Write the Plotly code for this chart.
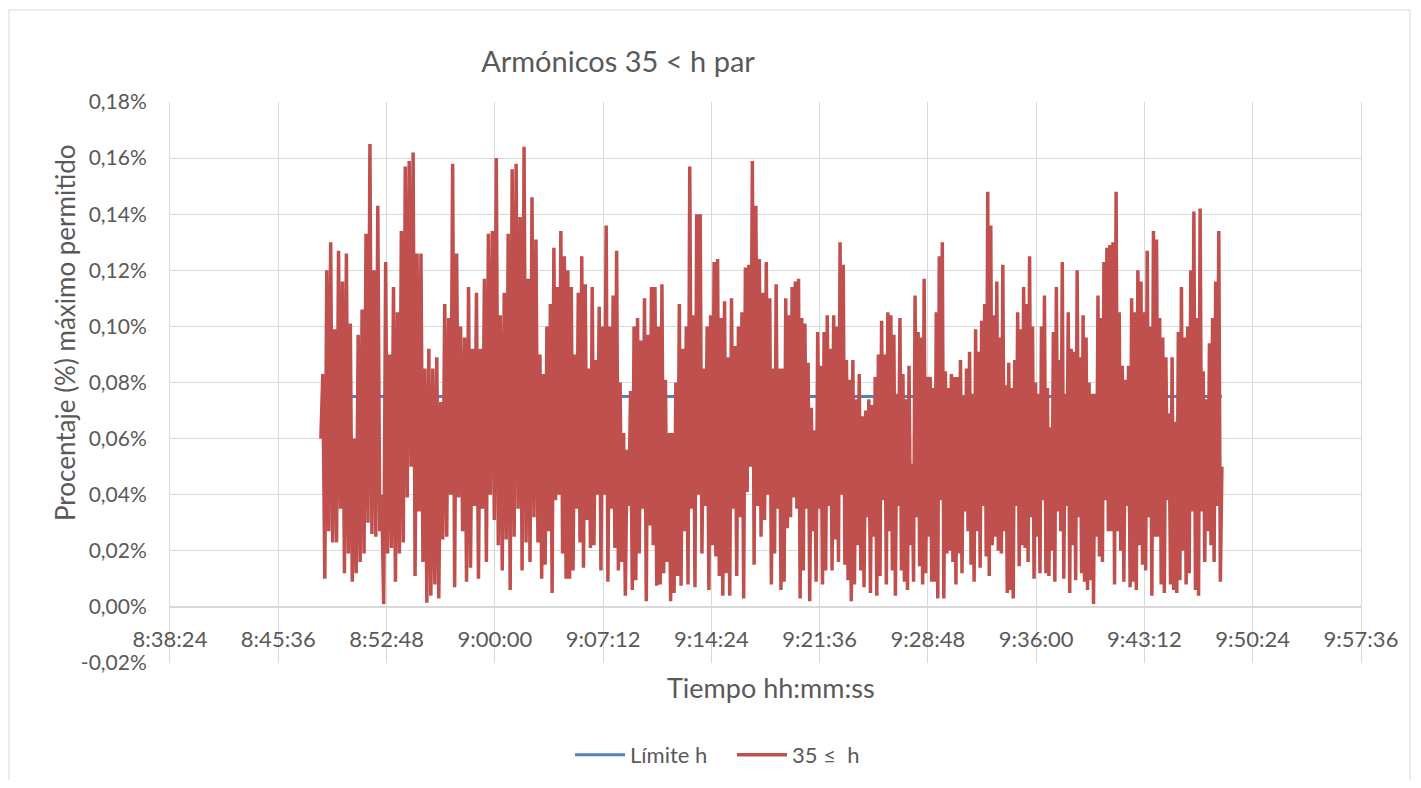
import pandas as pd
import plotly.graph_objects as go

# Datos (valores en %)
dia = "2024-01-01 "
inicio_tramos = ["08:48:26", "08:55:21", "09:03:00", "09:10:39",
                 "09:18:17", "09:25:56", "09:33:35", "09:40:54"]
fin_datos = "09:48:21"

limite_h = 0.075

tramo_1 = [0.060, 0.083, 0.010, 0.120, 0.027, 0.130, 0.023, 0.099, 0.023, 0.127, 0.035, 0.116, 0.012,
           0.126, 0.019, 0.101, 0.009, 0.060, 0.012, 0.097, 0.016, 0.106, 0.019, 0.133, 0.030, 0.165,
           0.026, 0.120, 0.025, 0.143, 0.027, 0.040, 0.001, 0.123, 0.019, 0.090, 0.021, 0.114, 0.009,
           0.105, 0.019, 0.134, 0.023, 0.157, 0.039, 0.159, 0.050, 0.162, 0.011, 0.126, 0.034, 0.126, 0.016]
tramo_2 = [0.085, 0.0015, 0.092, 0.004, 0.085, 0.008, 0.089, 0.003, 0.073, 0.024, 0.108, 0.025, 0.103,
           0.040, 0.158, 0.007, 0.126, 0.039, 0.100, 0.027, 0.096, 0.009, 0.114, 0.014, 0.092, 0.036,
           0.112, 0.010, 0.092, 0.035, 0.117, 0.016, 0.133, 0.040, 0.134, 0.031, 0.160, 0.022, 0.104,
           0.013, 0.112, 0.024, 0.133, 0.006, 0.156, 0.025, 0.158, 0.035, 0.139, 0.013, 0.164, 0.023,
           0.117, 0.016, 0.146, 0.032, 0.131, 0.023]
tramo_3 = [0.090, 0.010, 0.083, 0.015, 0.100, 0.027, 0.108, 0.005, 0.128, 0.038, 0.114, 0.040, 0.134,
           0.019, 0.125, 0.010, 0.120, 0.010, 0.114, 0.013, 0.090, 0.035, 0.112, 0.023, 0.125, 0.014,
           0.115, 0.031, 0.085, 0.021, 0.114, 0.022, 0.088, 0.040, 0.107, 0.013, 0.100, 0.040, 0.136,
           0.009, 0.100, 0.035, 0.111, 0.021, 0.127, 0.013, 0.080, 0.016, 0.062, 0.004, 0.056, 0.036,
           0.077, 0.006, 0.100, 0.0095, 0.103, 0.019, 0.095, 0.035, 0.110, 0.002, 0.097, 0.029, 0.114, 0.022]
tramo_4 = [0.114, 0.0075, 0.100, 0.008, 0.115, 0.012, 0.081, 0.016, 0.062, 0.002, 0.062, 0.005, 0.080,
           0.011, 0.108, 0.0075, 0.092, 0.027, 0.100, 0.008, 0.157, 0.035, 0.104, 0.007, 0.140, 0.040,
           0.140, 0.019, 0.085, 0.036, 0.100, 0.006, 0.104, 0.022, 0.123, 0.018, 0.124, 0.011, 0.103,
           0.004, 0.109, 0.012, 0.089, 0.004, 0.110, 0.035, 0.093, 0.011, 0.100, 0.032, 0.105, 0.003,
           0.121, 0.041, 0.122, 0.050, 0.159, 0.015, 0.143, 0.036, 0.124, 0.025, 0.112, 0.031, 0.123, 0.040]
tramo_5 = [0.110, 0.008, 0.085, 0.019, 0.115, 0.035, 0.085, 0.006, 0.085, 0.009, 0.110, 0.028, 0.104,
           0.032, 0.114, 0.039, 0.116, 0.035, 0.117, 0.003, 0.103, 0.013, 0.101, 0.035, 0.087, 0.002,
           0.071, 0.027, 0.063, 0.009, 0.098, 0.035, 0.086, 0.008, 0.098, 0.013, 0.104, 0.036, 0.092,
           0.013, 0.104, 0.024, 0.100, 0.016, 0.130, 0.040, 0.122, 0.015, 0.088, 0.0095, 0.081, 0.002,
           0.088, 0.008, 0.074, 0.022, 0.083, 0.013, 0.068, 0.007, 0.070, 0.032, 0.074, 0.005, 0.072,
           0.025, 0.082, 0.004, 0.090, 0.011, 0.102, 0.038]
tramo_6 = [0.090, 0.008, 0.105, 0.027, 0.104, 0.013, 0.097, 0.004, 0.076, 0.036, 0.103, 0.013, 0.083,
           0.009, 0.074, 0.006, 0.086, 0.022, 0.051, 0.009, 0.111, 0.032, 0.098, 0.0145, 0.096, 0.008,
           0.117, 0.012, 0.082, 0.025, 0.082, 0.009, 0.078, 0.009, 0.105, 0.003, 0.125, 0.038, 0.130,
           0.003, 0.084, 0.019, 0.078, 0.020, 0.083, 0.016, 0.082, 0.008, 0.082, 0.019, 0.088, 0.012,
           0.075, 0.034, 0.085, 0.027, 0.091, 0.015, 0.076, 0.009, 0.099, 0.027, 0.091, 0.014, 0.102,
           0.036, 0.108, 0.018, 0.148, 0.011, 0.136, 0.022, 0.104, 0.025, 0.116, 0.020]
tramo_7 = [0.096, 0.019, 0.122, 0.027, 0.079, 0.005, 0.087, 0.006, 0.078, 0.003, 0.088, 0.036, 0.105,
           0.0145, 0.099, 0.022, 0.114, 0.021, 0.108, 0.016, 0.125, 0.032, 0.100, 0.010, 0.080, 0.025,
           0.076, 0.012, 0.100, 0.038, 0.111, 0.012, 0.078, 0.011, 0.064, 0.020, 0.098, 0.009, 0.114,
           0.034, 0.088, 0.027, 0.123, 0.010, 0.076, 0.036, 0.105, 0.005, 0.092, 0.022, 0.091, 0.0095,
           0.120, 0.032, 0.089, 0.012, 0.104, 0.009, 0.096, 0.006, 0.080, 0.0095, 0.076, 0.001, 0.076,
           0.025, 0.111, 0.018, 0.103, 0.016, 0.123, 0.038, 0.128, 0.027]
tramo_8 = [0.129, 0.027, 0.130, 0.008, 0.148, 0.027, 0.105, 0.020, 0.086, 0.009, 0.081, 0.036, 0.086,
           0.007, 0.110, 0.009, 0.105, 0.006, 0.120, 0.022, 0.116, 0.015, 0.105, 0.013, 0.127, 0.032,
           0.100, 0.004, 0.134, 0.025, 0.131, 0.025, 0.103, 0.008, 0.096, 0.005, 0.089, 0.038, 0.069,
           0.008, 0.089, 0.006, 0.066, 0.005, 0.098, 0.0095, 0.114, 0.020, 0.096, 0.008, 0.100, 0.012,
           0.120, 0.034, 0.141, 0.006, 0.103, 0.004, 0.142, 0.034, 0.084, 0.016, 0.074, 0.027, 0.094,
           0.022, 0.103, 0.016, 0.116, 0.036, 0.134, 0.009, 0.050]

ticks_y = [-0.02, 0.0, 0.02, 0.04, 0.06, 0.08, 0.10, 0.12, 0.14, 0.16, 0.18]

tramos = [tramo_1, tramo_2, tramo_3, tramo_4, tramo_5, tramo_6, tramo_7, tramo_8]
bordes = inicio_tramos + [fin_datos]

tiempos = []
valores = []
for i, tramo in enumerate(tramos):
    n = len(tramo) + (1 if i < len(tramos) - 1 else 0)
    t = pd.date_range(dia + bordes[i], dia + bordes[i + 1], periods=n)[:len(tramo)]
    tiempos.extend(t)
    valores.extend(tramo)

gris = "#595959"
fuente = "Lato"

fig = go.Figure()
fig.add_trace(go.Scatter(
    x=[tiempos[0], tiempos[-1]], y=[limite_h, limite_h],
    mode="lines", name="Límite h",
    line=dict(color="#4F81BD", width=3),
))
fig.add_trace(go.Scatter(
    x=tiempos, y=valores,
    mode="lines", name="35 ≤  h",
    line=dict(color="#C0504D", width=3.5),
))

# la pagina tiene 8 px de margen: el area de trazado queda en x 170-1361, y 102-663
fig.update_layout(
    width=1405, height=772,
    margin=dict(l=162, r=52, t=94, b=117, autoexpand=False),
    paper_bgcolor="white", plot_bgcolor="white",
    font=dict(family=fuente, color=gris, size=21),
    title=dict(text="Armónicos 35 < h par", x=610 / 1405, xanchor="center",
               y=1 - 54 / 772, yanchor="middle", font=dict(size=29, color=gris)),
    showlegend=True,
    legend=dict(orientation="h", x=(570 - 170) / 1191, y=-0.164, xanchor="left", yanchor="middle",
                font=dict(size=22, color=gris), itemwidth=50,
                entrywidth=97, entrywidthmode="pixels"),
)

fig.update_xaxes(
    type="date",
    range=[dia + "08:38:24", dia + "09:57:36"],
    tick0=dia + "08:38:24", dtick=432000,
    tickformat="%-H:%M:%S",
    showgrid=True, gridcolor="#D9D9D9", gridwidth=1,
    showline=True, linecolor="#D9D9D9", linewidth=1,
    anchor="free", position=0.1,
    ticks="", ticklabelstandoff=13,
    tickfont=dict(size=22, color=gris),
)
fig.update_yaxes(
    range=[-0.02, 0.18],
    tickvals=ticks_y,
    ticktext=[f"{v:.2f}".replace(".", ",") + "%" for v in ticks_y],
    showgrid=True, gridcolor="#D9D9D9", gridwidth=1,
    zeroline=False,
    showline=True, linecolor="#D9D9D9", linewidth=1, mirror=True,
    ticks="", ticklabelstandoff=18,
    tickfont=dict(size=21, color=gris),
)

fig.add_annotation(text="Procentaje (%) máximo permitido", textangle=-90,
                   xref="paper", yref="paper", x=(65 - 170) / 1191, y=(663 - 333) / 561,
                   xanchor="center", yanchor="middle",
                   showarrow=False, font=dict(size=26, color=gris))
fig.add_annotation(text="Tiempo hh:mm:ss",
                   xref="paper", yref="paper", x=(771 - 170) / 1191, y=(663 - 687) / 561,
                   xanchor="center", yanchor="middle",
                   showarrow=False, font=dict(size=27, color=gris))

fig.add_shape(type="rect", xref="paper", yref="paper", layer="below",
              x0=(9 - 170) / 1191, x1=(1410 - 170) / 1191,
              y0=(663 - 820) / 561, y1=(663 - 10) / 561,
              line=dict(color="#D9D9D9", width=1))

fig.write_html("out.html")
